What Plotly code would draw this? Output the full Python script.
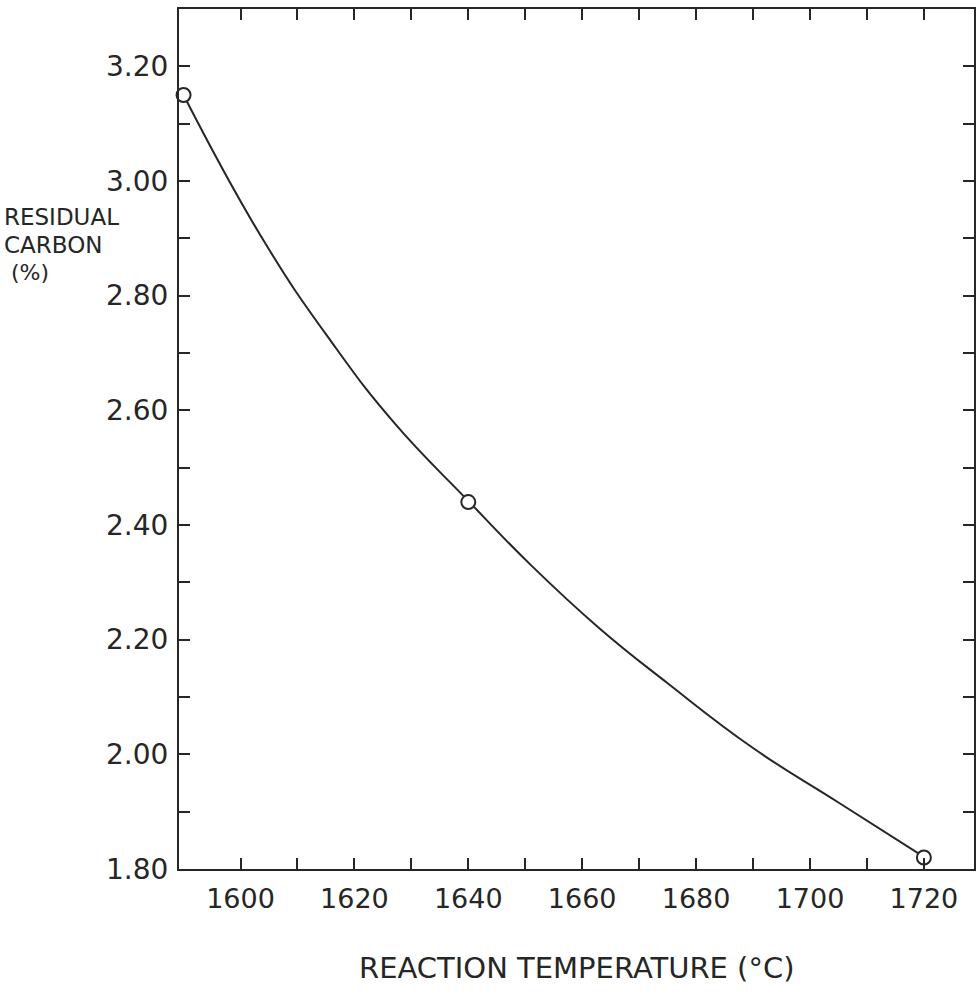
import plotly.graph_objects as go

# Measured data points
temp_pts = [1590, 1640, 1720]
carbon_pts = [3.15, 2.44, 1.82]

# Points
curve_temp = [1590, 1604, 1616, 1627, 1640, 1651, 1663, 1675, 1690, 1705, 1720]
curve_carbon = [3.15, 2.897, 2.719, 2.578, 2.442, 2.330, 2.220, 2.124, 2.011, 1.916, 1.821]

x_tickvals = list(range(1600, 1730, 10))
x_ticktext = [str(v) if v % 20 == 0 else "" for v in x_tickvals]
y_tickvals = [round(1.8 + 0.1 * i, 2) for i in range(15)]
y_ticktext = [f"{v:.2f}" if round(v * 10) % 2 == 0 else "" for v in y_tickvals]

ink = "#262626"
font_family = "DejaVu Sans"

fig = go.Figure()
fig.add_trace(go.Scatter(x=curve_temp, y=curve_carbon, mode="lines",
                         line=dict(color=ink, width=2, shape="spline", smoothing=1.3),
                         hoverinfo="skip", showlegend=False))
fig.add_trace(go.Scatter(x=temp_pts, y=carbon_pts, mode="markers",
                         marker=dict(symbol="circle", size=14, color="white",
                                     line=dict(color=ink, width=2)),
                         cliponaxis=False, showlegend=False))

axis_common = dict(showgrid=False, zeroline=False, showline=True, linecolor=ink,
                   linewidth=2, mirror="ticks", ticks="inside", ticklen=11,
                   tickwidth=2, tickcolor=ink)

fig.update_xaxes(range=[1589.2, 1728.8], tickmode="array", tickvals=x_tickvals,
                 ticktext=x_ticktext, ticklabelstandoff=5,
                 tickfont=dict(family=font_family, size=27, color=ink), **axis_common)
fig.update_yaxes(range=[1.80, 3.30], tickmode="array", tickvals=y_tickvals,
                 ticktext=y_ticktext, ticklabelstandoff=3,
                 tickfont=dict(family=font_family, size=28, color=ink), **axis_common)

def px_x(px):
    return (px - 179) / 797

def px_y(py):
    return (869 - py) / 860

annots = [
    dict(text="REACTION TEMPERATURE (°C)", x=px_x(578), y=px_y(968), xanchor="center",
         yanchor="middle", font=dict(size=29)),
    dict(text="RESIDUAL", x=px_x(3), y=px_y(217), xanchor="left", yanchor="middle",
         font=dict(size=23)),
    dict(text="CARBON", x=px_x(3), y=px_y(245), xanchor="left", yanchor="middle",
         font=dict(size=23)),
    dict(text="(%)", x=px_x(10), y=px_y(272), xanchor="left", yanchor="middle",
         font=dict(size=22)),
]
for a in annots:
    a["font"].update(family=font_family, color=ink)
    fig.add_annotation(xref="paper", yref="paper", showarrow=False, borderpad=0, **a)

fig.update_layout(width=978, height=995, margin=dict(l=179, r=2, t=9, b=126),
                  plot_bgcolor="white", paper_bgcolor="white")

fig.write_html("out.html", config={"displayModeBar": False},
               post_script="document.body.style.margin='0';document.body.style.overflow='hidden';")
